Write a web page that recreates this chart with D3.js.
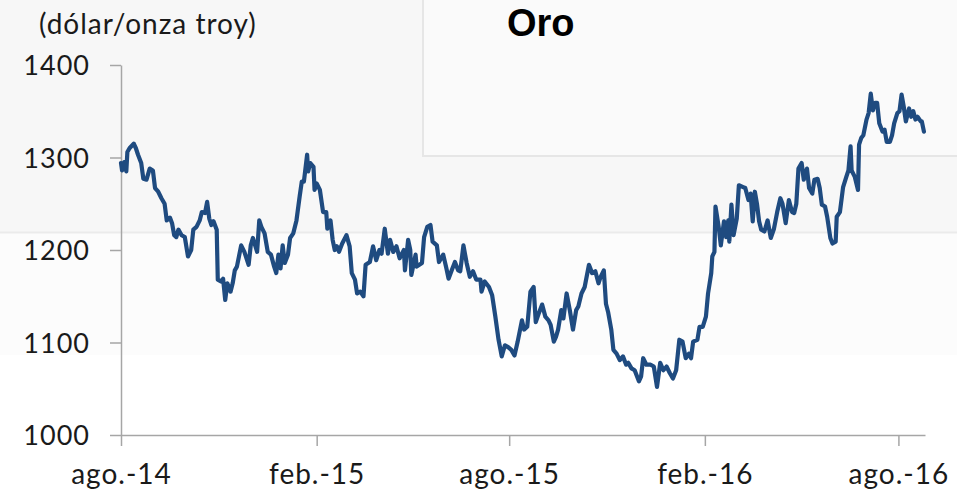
<!DOCTYPE html>
<html>
<head>
<meta charset="utf-8">
<script src="https://cdn.jsdelivr.net/npm/d3@7"></script>
<style>
  body { margin: 0; background: #ffffff; }
  .tick text { font-family: Lato, sans-serif; fill: #1a1a1a; letter-spacing: 1px; }
</style>
</head>
<body>
<div id="chart"></div>
<script>
var width = 957;
var height = 500;

// gold price, dollars per troy ounce
var dates = [
  "2014-08-01","2014-08-02","2014-08-04","2014-08-06","2014-08-07","2014-08-09","2014-08-13","2014-08-15","2014-08-17","2014-08-20",
  "2014-08-22","2014-08-25","2014-08-28","2014-08-31","2014-09-02","2014-09-05","2014-09-08","2014-09-11","2014-09-13","2014-09-16",
  "2014-09-18","2014-09-20","2014-09-22","2014-09-24","2014-09-27","2014-09-30","2014-10-03","2014-10-06","2014-10-08","2014-10-11",
  "2014-10-14","2014-10-16","2014-10-19","2014-10-21","2014-10-23","2014-10-25","2014-10-27","2014-10-30","2014-10-31","2014-11-03",
  "2014-11-05","2014-11-07","2014-11-09","2014-11-12","2014-11-14","2014-11-16","2014-11-18","2014-11-22","2014-11-25","2014-11-29",
  "2014-12-01","2014-12-03","2014-12-07","2014-12-09","2014-12-11","2014-12-14","2014-12-17","2014-12-20","2014-12-23","2014-12-25",
  "2014-12-27","2014-12-29","2014-12-31","2015-01-02","2015-01-05","2015-01-07","2015-01-10","2015-01-13","2015-01-16","2015-01-18",
  "2015-01-20","2015-01-23","2015-01-24","2015-01-26","2015-01-29","2015-01-30","2015-02-01","2015-02-04","2015-02-07","2015-02-10",
  "2015-02-11","2015-02-14","2015-02-16","2015-02-18","2015-02-20","2015-02-22","2015-02-25","2015-03-01","2015-03-04","2015-03-06",
  "2015-03-09","2015-03-11","2015-03-14","2015-03-17","2015-03-19","2015-03-23","2015-03-26","2015-03-29","2015-04-01","2015-04-03",
  "2015-04-06","2015-04-09","2015-04-11","2015-04-14","2015-04-17","2015-04-20","2015-04-24","2015-04-25","2015-04-28","2015-04-30",
  "2015-05-01","2015-05-05","2015-05-06","2015-05-11","2015-05-13","2015-05-16","2015-05-19","2015-05-21","2015-05-25","2015-05-27",
  "2015-05-31","2015-06-03","2015-06-05","2015-06-08","2015-06-11","2015-06-14","2015-06-16","2015-06-19","2015-06-22","2015-06-25",
  "2015-06-28","2015-07-01","2015-07-05","2015-07-06","2015-07-09","2015-07-13","2015-07-16","2015-07-19","2015-07-22","2015-07-25",
  "2015-07-28","2015-07-31","2015-08-03","2015-08-06","2015-08-09","2015-08-13","2015-08-15","2015-08-18","2015-08-21","2015-08-24",
  "2015-08-26","2015-08-29","2015-09-01","2015-09-04","2015-09-07","2015-09-09","2015-09-12","2015-09-14","2015-09-16","2015-09-19",
  "2015-09-21","2015-09-24","2015-09-27","2015-09-30","2015-10-03","2015-10-05","2015-10-08","2015-10-11","2015-10-15","2015-10-18",
  "2015-10-21","2015-10-24","2015-10-26","2015-10-29","2015-10-31","2015-11-02","2015-11-05","2015-11-07","2015-11-10","2015-11-13",
  "2015-11-16","2015-11-19","2015-11-21","2015-11-24","2015-11-27","2015-12-01","2015-12-03","2015-12-05","2015-12-08","2015-12-12",
  "2015-12-15","2015-12-18","2015-12-21","2015-12-24","2015-12-27","2015-12-30","2016-01-02","2016-01-05","2016-01-08","2016-01-11",
  "2016-01-14","2016-01-17","2016-01-19","2016-01-21","2016-01-25","2016-01-27","2016-01-30","2016-02-02","2016-02-04","2016-02-07",
  "2016-02-08","2016-02-10","2016-02-11","2016-02-14","2016-02-16","2016-02-19","2016-02-21","2016-02-23","2016-02-24","2016-02-26",
  "2016-02-28","2016-03-02","2016-03-04","2016-03-08","2016-03-10","2016-03-13","2016-03-15","2016-03-17","2016-03-19","2016-03-21",
  "2016-03-23","2016-03-25","2016-03-28","2016-03-31","2016-04-03","2016-04-06","2016-04-09","2016-04-12","2016-04-14","2016-04-17",
  "2016-04-20","2016-04-23","2016-04-25","2016-04-27","2016-04-29","2016-05-02","2016-05-04","2016-05-07","2016-05-09","2016-05-12",
  "2016-05-14","2016-05-17","2016-05-19","2016-05-21","2016-05-24","2016-05-26","2016-05-29","2016-05-31","2016-06-03","2016-06-04",
  "2016-06-07","2016-06-10","2016-06-13","2016-06-15","2016-06-17","2016-06-18","2016-06-21","2016-06-24","2016-06-25","2016-06-27",
  "2016-06-29","2016-07-02","2016-07-04","2016-07-06","2016-07-08","2016-07-10","2016-07-12","2016-07-14","2016-07-17","2016-07-19",
  "2016-07-21","2016-07-24","2016-07-26","2016-07-28","2016-07-31","2016-08-02","2016-08-04","2016-08-06","2016-08-08","2016-08-11",
  "2016-08-13","2016-08-15","2016-08-17","2016-08-19","2016-08-22","2016-08-23","2016-08-25"
];
var prices = [
  1294,1286,1295,1285,1306,1310,1315,1310,1303,1294,
  1277,1276,1288,1286,1267,1263,1256,1250,1232,1235,
  1229,1216,1214,1222,1216,1214,1193,1200,1222,1225,
  1232,1241,1240,1252,1234,1227,1231,1222,1168,1166,
  1169,1146,1164,1155,1164,1178,1182,1205,1198,1184,
  1205,1213,1198,1232,1225,1218,1198,1195,1182,1175,
  1195,1180,1205,1186,1195,1213,1218,1232,1258,1274,
  1274,1303,1285,1294,1290,1265,1272,1265,1241,1241,
  1223,1232,1211,1200,1204,1198,1207,1216,1204,1175,
  1168,1153,1155,1150,1184,1187,1204,1189,1200,1196,
  1223,1196,1211,1198,1204,1191,1200,1178,1211,1200,
  1173,1195,1182,1186,1214,1225,1227,1209,1205,1187,
  1195,1180,1169,1178,1187,1178,1177,1205,1186,1171,
  1177,1168,1168,1155,1166,1160,1151,1128,1103,1085,
  1097,1095,1092,1086,1101,1124,1114,1117,1155,1160,
  1122,1132,1141,1128,1124,1119,1101,1106,1114,1135,
  1126,1153,1135,1114,1135,1139,1153,1160,1184,1175,
  1177,1164,1171,1178,1142,1133,1114,1092,1088,1081,
  1085,1076,1078,1072,1070,1058,1063,1083,1076,1076,
  1074,1052,1078,1070,1074,1067,1061,1070,1103,1101,
  1083,1088,1083,1101,1103,1117,1117,1128,1153,1175,
  1193,1198,1247,1225,1205,1231,1214,1232,1209,1249,
  1216,1234,1270,1268,1267,1254,1261,1231,1263,1250,
  1231,1222,1220,1232,1213,1223,1241,1256,1250,1229,
  1254,1241,1240,1250,1288,1294,1276,1288,1267,1261,
  1276,1277,1267,1249,1247,1236,1213,1207,1209,1236,
  1241,1268,1279,1286,1312,1286,1279,1265,1314,1321,
  1324,1341,1348,1369,1351,1359,1359,1337,1328,1330,
  1317,1317,1324,1337,1348,1350,1368,1355,1339,1353,
  1344,1350,1341,1344,1339,1339,1328
];

var yTicks = [1000, 1100, 1200, 1300, 1400];
var xTickDates = ["2014-08-01", "2015-02-01", "2015-08-01", "2016-02-01", "2016-08-01"];
var xTickLabels = ["ago.-14", "feb.-15", "ago.-15", "feb.-16", "ago.-16"];
var xDomain = ["2014-08-01", "2016-08-26"];

var parseDate = d3.timeParse("%Y-%m-%d");

var data = dates.map(function (d, i) {
  return { date: parseDate(d), value: prices[i] };
});

var svg = d3.select("#chart")
  .append("svg")
  .attr("width", width)
  .attr("height", height);

// faint background panels
svg.append("rect").attr("x", 0).attr("y", 0).attr("width", width).attr("height", 232)
  .attr("fill", "#f7f7f7");
svg.append("rect").attr("x", 0).attr("y", 233).attr("width", width).attr("height", 122)
  .attr("fill", "#fcfcfc");
svg.append("line").attr("x1", 0).attr("x2", width).attr("y1", 232.5).attr("y2", 232.5)
  .attr("stroke", "#ebebeb").attr("stroke-width", 2);
svg.append("rect").attr("x", 423).attr("y", -2).attr("width", 540).attr("height", 158)
  .attr("fill", "#fafafa").attr("stroke", "#e6e6e6").attr("stroke-width", 2);

var xScale = d3.scaleTime()
  .domain(xDomain.map(parseDate))
  .range([121, 925]);

var yScale = d3.scaleLinear()
  .domain([1000, 1400])
  .range([435, 65]);

var xAxis = d3.axisBottom(xScale)
  .tickValues(xTickDates.map(parseDate))
  .tickFormat(function (d, i) { return xTickLabels[i]; })
  .tickSizeInner(11)
  .tickSizeOuter(0)
  .tickPadding(18);

var yAxis = d3.axisLeft(yScale)
  .tickValues(yTicks)
  .tickFormat(d3.format("d"))
  .tickSizeInner(11)
  .tickSizeOuter(0)
  .tickPadding(20);

var gx = svg.append("g")
  .attr("transform", "translate(0,435)")
  .call(xAxis);

var gy = svg.append("g")
  .attr("transform", "translate(121,0)")
  .call(yAxis);

svg.selectAll(".domain, .tick line")
  .attr("stroke", "#a6a6a6")
  .attr("stroke-width", 1.5);

gx.selectAll("text").style("font-size", "28px");
gy.selectAll("text").style("font-size", "27px").attr("dy", "0.36em");

// unit label
svg.append("text")
  .attr("x", 39)
  .attr("y", 34)
  .style("font-family", "Lato, sans-serif")
  .style("font-size", "28px")
  .style("letter-spacing", "1px")
  .style("fill", "#1a1a1a")
  .text("(dólar/onza troy)");

// title
svg.append("text")
  .attr("x", 507)
  .attr("y", 36)
  .style("font-family", "'Liberation Sans', Arial, sans-serif")
  .style("font-weight", "bold")
  .style("font-size", "38px")
  .style("fill", "#000")
  .text("Oro");

var line = d3.line()
  .x(function (d) { return xScale(d.date); })
  .y(function (d) { return yScale(d.value); });

svg.append("path")
  .datum(data)
  .attr("fill", "none")
  .attr("stroke", "#1f4b80")
  .attr("stroke-width", 4.2)
  .attr("stroke-linejoin", "round")
  .attr("stroke-linecap", "round")
  .attr("d", line);
</script>
</body>
</html>
